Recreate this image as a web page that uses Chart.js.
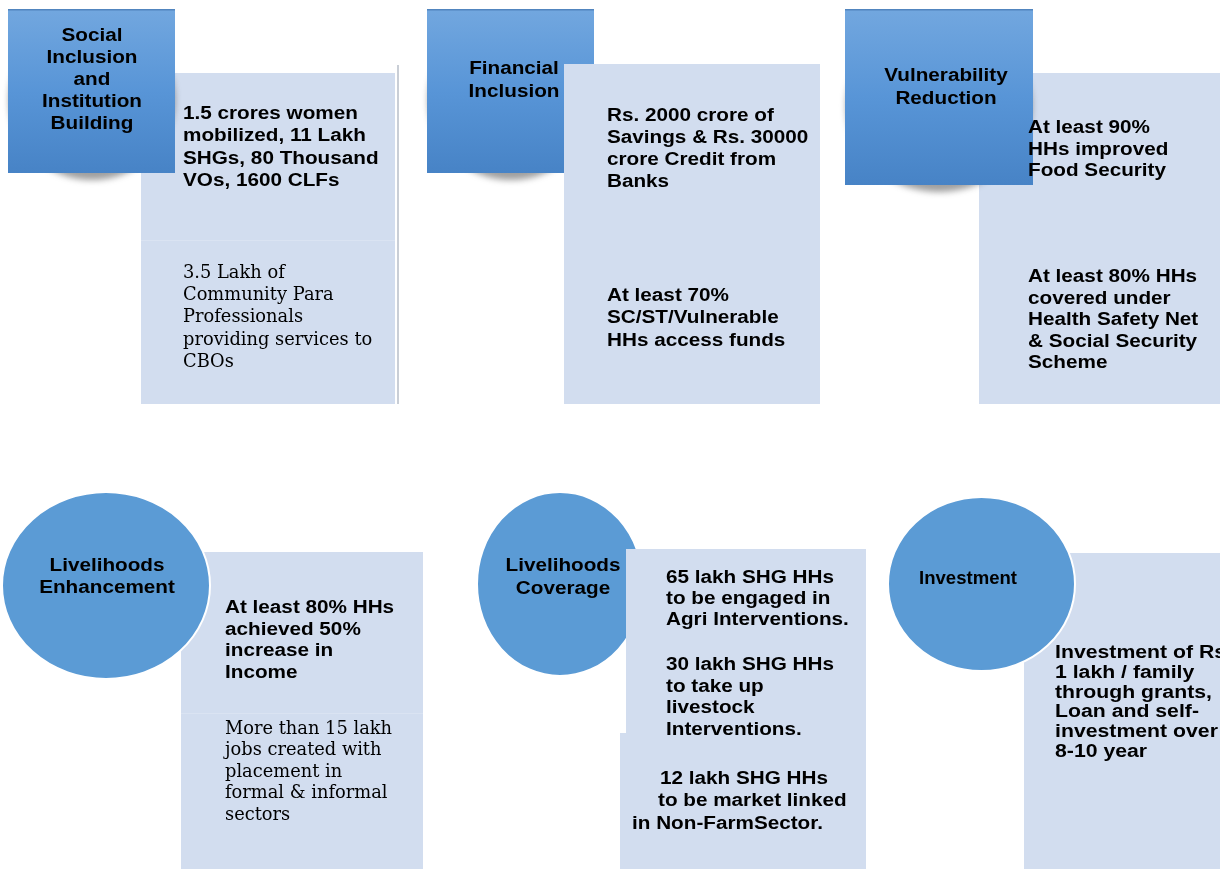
<!DOCTYPE html>
<html>
<head>
<meta charset="utf-8">
<script src="https://cdn.jsdelivr.net/npm/chart.js@4.4.1/dist/chart.umd.min.js"></script>
<style>
  html, body { margin: 0; padding: 0; background: #fff; }
  #wrap { width: 1220px; height: 869px; }
</style>
</head>
<body>
<div id="wrap"><canvas id="goals" width="1220" height="869"></canvas></div>
<script>
// content of the diagram
const categories = ['Social Inclusion and Institution Building', 'Financial Inclusion', 'Vulnerability Reduction',
    'Livelihoods Enhancement', 'Livelihoods Coverage', 'Investment'];

const headingLines = [
    ['Social', 'Inclusion', 'and', 'Institution', 'Building'],
    ['Financial', 'Inclusion'],
    ['Vulnerability', 'Reduction'],
    ['Livelihoods', 'Enhancement'],
    ['Livelihoods', 'Coverage'],
    ['Investment']
];

const targetLines = [
    [['1.5 crores women', 'mobilized, 11 Lakh', 'SHGs, 80 Thousand', 'VOs, 1600 CLFs'],
     ['3.5 Lakh of', 'Community Para', 'Professionals', 'providing services to', 'CBOs']],
    [['Rs. 2000 crore of', 'Savings & Rs. 30000', 'crore Credit from', 'Banks'],
     ['At least 70%', 'SC/ST/Vulnerable', 'HHs access funds']],
    [['At least 90%', 'HHs improved', 'Food Security'],
     ['At least 80% HHs', 'covered under', 'Health Safety Net', '& Social Security', 'Scheme']],
    [['At least 80% HHs', 'achieved 50%', 'increase in', 'Income'],
     ['More than 15 lakh', 'jobs created with', 'placement in', 'formal & informal', 'sectors']],
    [['65 lakh SHG HHs', 'to be engaged in', 'Agri Interventions.'],
     ['30 lakh SHG HHs', 'to take up', 'livestock', 'Interventions.'],
     ['12 lakh SHG HHs', 'to be market linked', 'in Non-FarmSector.']],
    [['Investment of Rs', '1 lakh / family', 'through grants,', 'Loan and self-', 'investment over', '8-10 year']]
];

// where each panel sits (in the 1220 x 869 value space of the scales)
const layout = [
    { shape: 'square', head: [8, 175, 9, 173], shadow: [92, 100, 83, 80], headOnTop: true,
      title: { cx: 92, y: 36, lh: 22 }, boxes: [[141, 395, 73, 404]], rule: 397, split: 240,
      blocks: [{ x: 183, y: 114, lh: 22.3 }, { x: 183, y: 273, lh: 22.3, serif: true }] },
    { shape: 'square', head: [427, 594, 9, 173], shadow: [511, 100, 83, 80], headOnTop: false,
      title: { cx: 514, y: 69, lh: 23 }, boxes: [[564, 820, 64, 404]],
      blocks: [{ x: 607, y: 116, lh: 22 }, { x: 607, y: 296, lh: 22.5 }] },
    { shape: 'square', head: [845, 1033, 9, 185], shadow: [939, 106, 93, 86], headOnTop: true,
      title: { cx: 946, y: 76, lh: 23 }, boxes: [[979, 1220, 73, 404]],
      blocks: [{ x: 1028, y: 128, lh: 21.6 }, { x: 1028, y: 277, lh: 21.6 }] },
    { shape: 'circle', head: [2, 210, 492, 679], headOnTop: true,
      title: { cx: 107, y: 566, lh: 22 }, boxes: [[181, 423, 552, 869]], split: 713,
      blocks: [{ x: 225, y: 608, lh: 21.7 }, { x: 225, y: 729, lh: 21.5, serif: true }] },
    { shape: 'circle', head: [477, 643, 492, 676], headOnTop: false,
      title: { cx: 563, y: 566, lh: 23 }, boxes: [[626, 866, 549, 869], [620, 627, 733, 869]],
      blocks: [{ x: 666, y: 578, lh: 21 }, { x: 666, y: 665, lh: 21.7 },
               { xs: [660, 658, 632], y: 779, lh: 22.5 }] },
    { shape: 'circle', head: [888, 1075, 497, 671], headOnTop: true,
      title: { cx: 968, y: 579, lh: 22, size: 18, sx: 1.03 }, boxes: [[1024, 1220, 553, 869]],
      blocks: [{ x: 1055, y: 653, lh: 19.8, sx: 1.18 }] }
];

const boldFont = '"Liberation Sans", Arial, sans-serif';
const serifFont = '"DejaVu Serif", "Liberation Serif", serif';

function drawText(ctx, text, x, y, opts) {
    const sx = opts.sx || 1;
    ctx.save();
    ctx.font = opts.font;
    ctx.textBaseline = 'middle';
    ctx.fillStyle = '#000';
    let left = x;
    if (opts.center) {
        left = x - ctx.measureText(text).width * sx / 2;
    }
    ctx.translate(left, y);
    ctx.scale(sx, 1);
    ctx.fillText(text, 0, 0);
    ctx.restore();
}

const diagramPlugin = {
    id: 'diagram',
    beforeDatasetsDraw(chart) {
        const ctx = chart.ctx;
        const X = v => chart.scales.x.getPixelForValue(v);
        const Y = v => chart.scales.y.getPixelForValue(v);

        const drawHead = (p) => {
            const [x0, x1, y0, y1] = p.head;
            if (p.shape === 'square') {
                const [cx, cy, rx, ry] = p.shadow;
                ctx.save();
                ctx.filter = 'blur(3px)';
                ctx.fillStyle = 'rgba(80,80,80,0.55)';
                ctx.beginPath();
                ctx.ellipse(X(cx), Y(cy), X(cx + rx) - X(cx), Y(cy + ry) - Y(cy), 0, 0, Math.PI * 2);
                ctx.fill();
                ctx.restore();

                const g = ctx.createLinearGradient(0, Y(y0), 0, Y(y1));
                g.addColorStop(0, '#72a7df');
                g.addColorStop(0.5, '#5895d7');
                g.addColorStop(1, '#4783c6');
                ctx.fillStyle = g;
                ctx.fillRect(X(x0), Y(y0), X(x1) - X(x0), Y(y1) - Y(y0));
                ctx.fillStyle = 'rgba(60,110,170,0.6)';
                ctx.fillRect(X(x0), Y(y0), X(x1) - X(x0), 1.5);
            } else {
                ctx.save();
                ctx.fillStyle = '#5b9bd5';
                ctx.strokeStyle = '#ffffff';
                ctx.lineWidth = 2;
                ctx.beginPath();
                ctx.ellipse(X((x0 + x1) / 2), Y((y0 + y1) / 2), (X(x1) - X(x0)) / 2, (Y(y1) - Y(y0)) / 2, 0, 0, Math.PI * 2);
                ctx.fill();
                ctx.stroke();
                ctx.restore();
            }
        };

        const drawBoxes = (p) => {
            ctx.fillStyle = '#d2ddef';
            p.boxes.forEach(([x0, x1, y0, y1]) => {
                ctx.fillRect(X(x0), Y(y0), X(x1) - X(x0), Y(y1) - Y(y0));
            });
            const b = p.boxes[0];
            if (p.split) {
                ctx.fillStyle = 'rgba(255,255,255,0.18)';
                ctx.fillRect(X(b[0]), Y(p.split), X(b[1]) - X(b[0]), 1);
            }
            if (p.rule) {
                ctx.fillStyle = '#c9ced6';
                ctx.fillRect(X(p.rule), Y(b[2] - 8), 2, Y(b[3]) - Y(b[2] - 8));
            }
        };

        layout.forEach(p => {
            if (p.headOnTop) { drawBoxes(p); drawHead(p); }
            else { drawHead(p); drawBoxes(p); }
        });
    },
    afterDatasetsDraw(chart) {
        const ctx = chart.ctx;
        const X = v => chart.scales.x.getPixelForValue(v);
        const Y = v => chart.scales.y.getPixelForValue(v);

        layout.forEach((p, i) => {
            const t = p.title;
            headingLines[i].forEach((line, k) => {
                drawText(ctx, line, X(t.cx), Y(t.y + k * t.lh),
                    { font: 'bold ' + (t.size || 18) + 'px ' + boldFont, sx: t.sx || 1.15, center: true });
            });
            p.blocks.forEach((blk, j) => {
                targetLines[i][j].forEach((line, k) => {
                    const x = blk.xs ? blk.xs[k] : blk.x;
                    const font = blk.serif ? '18px ' + serifFont : 'bold 18px ' + boldFont;
                    drawText(ctx, line, X(x), Y(blk.y + k * blk.lh),
                        { font: font, sx: blk.sx || (blk.serif ? 0.99 : 1.15) });
                });
            });
        });
    }
};

new Chart(document.getElementById('goals'), {
    type: 'scatter',
    data: {
        datasets: [{
            label: 'panels',
            data: layout.map((p, i) => ({ x: (p.head[0] + p.head[1]) / 2, y: (p.head[2] + p.head[3]) / 2, name: categories[i] })),
            pointRadius: 0
        }]
    },
    options: {
        responsive: false,
        animation: false,
        devicePixelRatio: 1,
        layout: { padding: 0 },
        scales: {
            x: { type: 'linear', min: 0, max: 1220, display: false },
            y: { type: 'linear', min: 0, max: 869, reverse: true, display: false }
        },
        plugins: {
            legend: { display: false },
            tooltip: { enabled: false }
        }
    },
    plugins: [diagramPlugin]
});
</script>
</body>
</html>
